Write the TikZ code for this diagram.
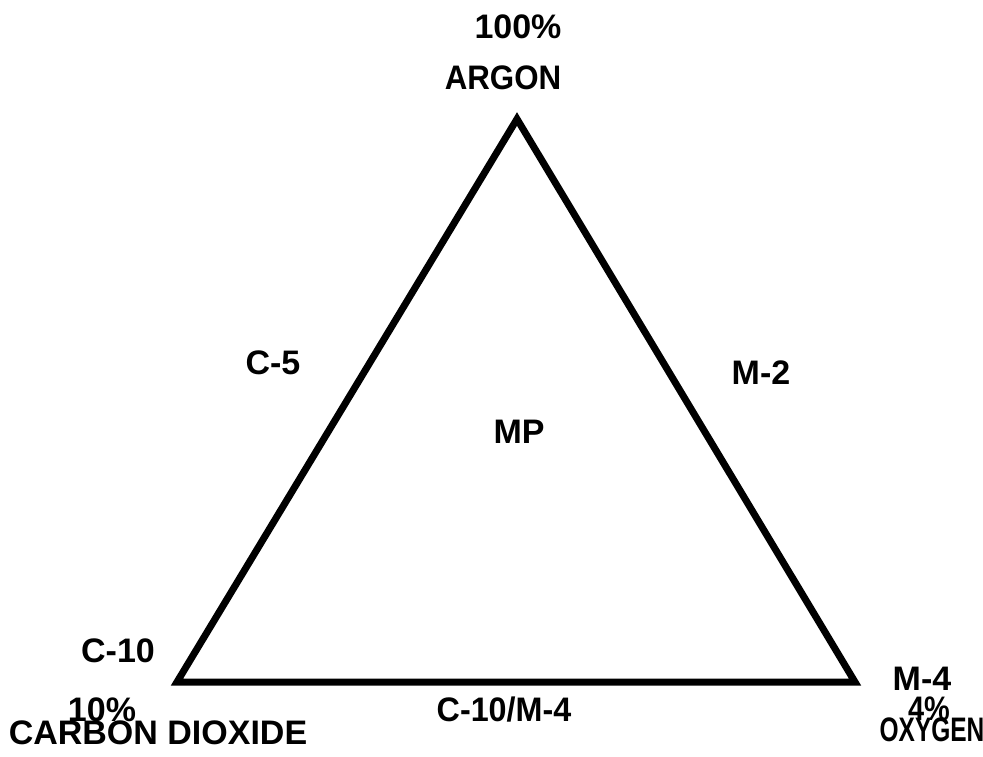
\documentclass[tikz,border=0pt]{standalone}
\usepackage{fontspec}
\setmainfont{Liberation Sans}
\begin{document}
\begin{tikzpicture}[x=1pt,y=-1pt,
  lbl/.style={font=\fontsize{34}{36}\selectfont\bfseries, inner sep=0pt, anchor=center},
  edge/.style={line width=7pt, line join=miter}]
\useasboundingbox (0,0) rectangle (983,757);
\coordinate (A) at (517,119);
\coordinate (B) at (177,682);
\coordinate (C) at (855,682);
\draw[edge] (A) -- (B) -- (C) -- cycle;
\node[lbl] (p100) at (518,27) {100\%};
\node[lbl] (argon) at (503,78) {\scalebox{0.92}[1]{ARGON}};
\node[lbl] (c5) at (273,363) {C-5};
\node[lbl] (m2) at (761,373) {M-2};
\node[lbl] (mp) at (519,432) {MP};
\node[lbl] (c10) at (118,651) {C-10};
\node[lbl] (p10) at (102,710) {10\%};
\node[lbl] (co2) at (158,733) {CARBON DIOXIDE};
\node[lbl] (c10m4) at (504,710) {\scalebox{0.95}[1]{C-10/M-4}};
\node[lbl] (m4) at (922,679) {M-4};
\node[lbl] (p4) at (929,709) {\scalebox{0.85}[1]{4\%}};
\node[lbl] (oxy) at (932,730) {\scalebox{0.72}[1]{OXYGEN}};
\end{tikzpicture}
\end{document}
